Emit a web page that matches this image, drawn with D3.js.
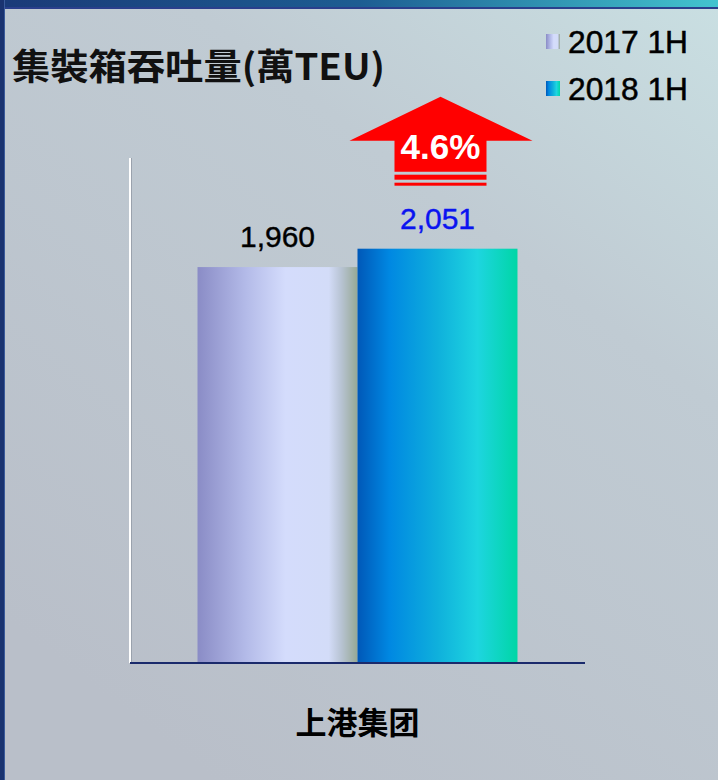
<!DOCTYPE html>
<html>
<head>
<meta charset="utf-8">
<script src="https://cdn.jsdelivr.net/npm/d3@7"></script>
<style>
  html, body { margin: 0; padding: 0; background: #bcc3cc; }
  #chart { width: 718px; height: 780px; }
</style>
</head>
<body>
<div id="chart"></div>
<script>
const categories = ["上港集团"];
const seriesNames = ["2017 1H", "2018 1H"];
const values2017 = [1960];
const values2018 = [2051];
const growthLabels = ["4.6%"];
const titleText = "集裝箱吞吐量(萬TEU)";

function renderChart(containerId) {
  const width = 718;
  const height = 780;
  const margin = { top: 158, right: 133, bottom: 117, left: 130 };

  const container = d3.select(`#${containerId}`);
  container.html("");

  const svg = container.append("svg")
    .attr("width", width)
    .attr("height", height);

  const defs = svg.append("defs");

  // page background
  const bg = defs.append("linearGradient").attr("id", "bg")
    .attr("x1", 1).attr("y1", 0).attr("x2", 0.3).attr("y2", 1);
  bg.append("stop").attr("offset", 0).attr("stop-color", "#c9dfe2");
  bg.append("stop").attr("offset", 0.35).attr("stop-color", "#c0cbd3");
  bg.append("stop").attr("offset", 1).attr("stop-color", "#b9bfc9");

  const topBand = defs.append("linearGradient").attr("id", "topBand");
  topBand.append("stop").attr("offset", 0).attr("stop-color", "#1a3a78");
  topBand.append("stop").attr("offset", 0.5).attr("stop-color", "#1d5d92");
  topBand.append("stop").attr("offset", 1).attr("stop-color", "#43c4cf");

  const g17 = defs.append("linearGradient").attr("id", "g2017");
  [[0, "#8a8cc6"], [0.3, "#b3bae8"], [0.55, "#d4dcfc"], [0.82, "#d3dcf8"],
   [0.9, "#b7c3d2"], [1, "#97a894"]].forEach(s =>
    g17.append("stop").attr("offset", s[0]).attr("stop-color", s[1]));

  const g18 = defs.append("linearGradient").attr("id", "g2018");
  [[0, "#0058b8"], [0.2, "#0088e2"], [0.5, "#0fb0dc"], [0.75, "#1ed5e0"],
   [1, "#00d6a6"]].forEach(s =>
    g18.append("stop").attr("offset", s[0]).attr("stop-color", s[1]));

  const fills = ["url(#g2017)", "url(#g2018)"];

  svg.append("rect").attr("width", width).attr("height", height).attr("fill", "url(#bg)");
  svg.append("rect").attr("width", width).attr("height", 7).attr("fill", "url(#topBand)");
  svg.append("rect").attr("y", 7).attr("width", width).attr("height", 2).attr("fill", "#2a3f8c");
  svg.append("rect").attr("width", 4).attr("height", height).attr("fill", "#1a3370");
  svg.append("rect").attr("x", 4).attr("width", 1).attr("height", height).attr("fill", "#3a5a9a");

  const chartWidth = width - margin.left - margin.right;
  const chartHeight = height - margin.top - margin.bottom;
  const g = svg.append("g").attr("transform", `translate(${margin.left},${margin.top})`);

  const x0 = d3.scaleBand().domain(categories).range([0, chartWidth])
    .paddingInner(0).paddingOuter(0.211);
  const x1 = d3.scaleBand().domain(seriesNames).range([0, x0.bandwidth()]).padding(0);
  const y = d3.scaleLinear().domain([0, 2500]).range([chartHeight, 0]);

  const rows = categories.map((c, i) => ({
    cat: c,
    vals: [values2017[i], values2018[i]],
    growth: growthLabels[i]
  }));

  // y axis line (white)
  g.append("line").attr("x1", 0).attr("x2", 0).attr("y1", 0).attr("y2", chartHeight)
    .attr("stroke", "#ffffff").attr("stroke-width", 2);
  g.append("line").attr("x1", 1.5).attr("x2", 1.5).attr("y1", 0).attr("y2", chartHeight)
    .attr("stroke", "#9aa2ad").attr("stroke-width", 1);

  const groups = g.selectAll(".cat").data(rows).join("g")
    .attr("transform", d => `translate(${x0(d.cat)},0)`);

  groups.selectAll("rect").data(d => d.vals.map((v, i) => ({ v, s: seriesNames[i], i })))
    .join("rect")
    .attr("x", d => x1(d.s))
    .attr("y", d => y(d.v))
    .attr("width", x1.bandwidth())
    .attr("height", d => chartHeight - y(d.v))
    .attr("fill", d => fills[d.i]);

  groups.selectAll(".val").data(d => d.vals.map((v, i) => ({ v, s: seriesNames[i], i })))
    .join("text")
    .attr("x", d => x1(d.s) + x1.bandwidth() / 2)
    .attr("y", d => y(d.v) - 20)
    .attr("text-anchor", "middle")
    .attr("font-family", "Liberation Sans, Arial, sans-serif")
    .attr("font-size", 30)
    .attr("stroke", d => d.i === 0 ? "#000000" : "#0a14f0")
    .attr("stroke-width", 0.4)
    .attr("fill", d => d.i === 0 ? "#000000" : "#0a14f0")
    .text(d => d3.format(",")(d.v));

  // growth arrow above the 2018 bar
  groups.each(function(d) {
    const cx = x1(seriesNames[1]) + x1.bandwidth() / 2 + 3;
    const base = y(d.vals[1]) - 62;
    const a = d3.select(this).append("g").attr("transform", `translate(${cx},${base})`);
    const path = d3.path();
    path.moveTo(0, -90);
    path.lineTo(92, -46);
    path.lineTo(46, -46);
    path.lineTo(46, -15);
    path.lineTo(-46, -15);
    path.lineTo(-46, -46);
    path.lineTo(-91, -46);
    path.closePath();
    a.append("path").attr("d", path.toString()).attr("fill", "#ff0000");
    a.append("rect").attr("x", -46).attr("y", -12).attr("width", 92).attr("height", 5).attr("fill", "#ff0000");
    a.append("rect").attr("x", -46).attr("y", -4).attr("width", 92).attr("height", 3).attr("fill", "#ff0000");
    a.append("text")
      .attr("x", 0).attr("y", -28)
      .attr("text-anchor", "middle")
      .attr("font-family", "Liberation Sans, Arial, sans-serif")
      .attr("font-weight", "bold")
      .attr("font-size", 35)
      .attr("fill", "#ffffff")
      .text(d.growth);
  });

  // x axis line
  g.append("line").attr("x1", 0).attr("x2", chartWidth).attr("y1", chartHeight).attr("y2", chartHeight)
    .attr("stroke", "#1a2a6c").attr("stroke-width", 2);

  // category labels
  g.selectAll(".catlabel").data(rows).join("text")
    .attr("x", d => x0(d.cat) + x0.bandwidth() / 2)
    .attr("y", chartHeight + 71)
    .attr("text-anchor", "middle")
    .attr("font-family", "Noto Sans CJK SC, sans-serif")
    .attr("font-weight", "bold")
    .attr("font-size", 31)
    .attr("fill", "#000000")
    .text(d => d.cat);

  // title
  svg.append("text")
    .attr("x", 12).attr("y", 80)
    .attr("font-family", "Noto Sans CJK TC, sans-serif")
    .attr("font-weight", "bold")
    .attr("font-size", 36)
    .attr("textLength", 373)
    .attr("lengthAdjust", "spacingAndGlyphs")
    .attr("fill", "#111111")
    .text(titleText);

  // legend
  const legend = svg.append("g").attr("transform", "translate(546,34)");
  const items = legend.selectAll("g").data(seriesNames).join("g")
    .attr("transform", (d, i) => `translate(0,${i * 47})`);
  items.append("rect").attr("width", 14).attr("height", 15).attr("fill", (d, i) => fills[i]);
  items.append("text")
    .attr("x", 22).attr("y", 19)
    .attr("font-family", "Liberation Sans, Arial, sans-serif")
    .attr("font-size", 31)
    .attr("stroke", "#000000")
    .attr("stroke-width", 0.5)
    .attr("textLength", 120)
    .attr("lengthAdjust", "spacingAndGlyphs")
    .attr("fill", "#000000")
    .text(d => d);
}

renderChart("chart");
</script>
</body>
</html>
